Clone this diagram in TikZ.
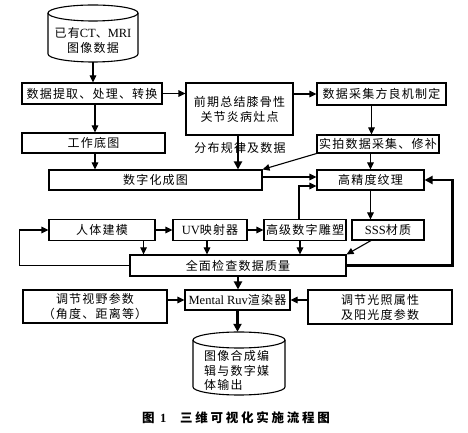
\documentclass[tikz,border=0pt]{standalone}
\usepackage{fontspec}
\setmainfont{Liberation Serif}
\newfontfamily\cjk[LetterSpace=10]{Noto Sans CJK SC}
\newfontfamily\cjkcap[LetterSpace=22]{Noto Sans CJK SC}
\usetikzlibrary{arrows.meta,calc}
\newcommand\lat[1]{{\rmfamily\fontsize{12.5}{15}\selectfont #1}}
\begin{document}
\begin{tikzpicture}[x=1pt,y=1pt,
  txt/.style={inner sep=0pt, font=\cjk\fontsize{12}{15}\selectfont, align=center},
  box/.style={txt, draw, line width=1.1pt},
  arr/.style={-{Triangle[length=7pt,width=6.5pt]}, line width=1.1pt},
  thk/.style={-{Triangle[length=8pt,width=8pt]}, line width=2.4pt}]
\useasboundingbox[fill=white] (0,0) rectangle (468,433);

% top cylinder
\node[txt, minimum width=90pt, minimum height=43pt] (cyl1) at (93,392.5) {已有\lat{CT}、\lat{MRI}\\图像数据};
\draw[line width=1.1pt] (93,420) ellipse [x radius=45pt, y radius=8pt];
\draw[line width=1.1pt] (48,420) -- (48,379) arc[start angle=180, end angle=360, x radius=45pt, y radius=8pt] -- (138,420);

% boxes
\node[box, minimum width=140pt, minimum height=21pt] (b1) at (92,339.5) {数据提取、处理、转换};
\node[box, minimum width=107pt, minimum height=52pt] (b2) at (239.5,324) {前期总结膝骨性\\关节炎病灶点};
\node[box, minimum width=129pt, minimum height=22pt] (b3) at (381.5,339) {数据采集方良机制定};
\node[box, minimum width=143pt, minimum height=20pt] (b4) at (93.5,290) {工作底图};
\node[box, minimum width=122pt, minimum height=18pt] (b5) at (378,289) {实拍数据采集、修补};
\node[txt] (lbl) at (240,285) {分布规律及数据};
\node[box, minimum width=213pt, minimum height=20pt] (b6) at (155.5,253) {数字化成图};
\node[box, minimum width=107pt, minimum height=20pt] (b7) at (370.5,253) {高精度纹理};
\node[box, minimum width=106pt, minimum height=21pt] (b8) at (102,203) {人体建模};
\node[box, minimum width=74pt, minimum height=21pt] (b9) at (210,203) {\lat{UV}映射器};
\node[box, minimum width=82pt, minimum height=21pt] (b10) at (305,203) {高级数字雕塑};
\node[box, minimum width=72pt, minimum height=20pt] (b11) at (388,203) {\lat{SSS}材质};
\node[box, minimum width=216pt, minimum height=21pt] (b12) at (238,167.5) {全面检查数据质量};
\node[box, minimum width=144pt, minimum height=33pt] (b13) at (95,126.5) {调节视野参数\\（角度、距离等）};
\node[box, minimum width=105pt, minimum height=20pt] (b14) at (237.5,133) {\lat{Mental Ruv}渲染器};
\node[box, minimum width=144pt, minimum height=34pt] (b15) at (380,126) {调节光照属性\\及阳光度参数};

% bottom cylinder
\node[inner sep=0pt, minimum width=92pt, minimum height=63pt] (cyl2) at (239,69.5) {};
\draw[line width=1.1pt] (239,93) ellipse [x radius=46pt, y radius=8pt];
\draw[line width=1.1pt] (193,93) -- (193,46) arc[start angle=180, end angle=360, x radius=46pt, y radius=8pt] -- (285,93);
\node[txt, align=left, anchor=west, font=\cjk\fontsize{12}{14.5}\selectfont] (cyl2t) at (204,62.5) {图像合成编\\辑与数字媒\\体输出};

% caption
\node[txt, font=\cjkcap\bfseries\fontsize{12.5}{14}\selectfont] (cap) at (236,15) {图 {\rmfamily\bfseries 1}\hspace{1.1em}三维可视化实施流程图};

% connectors
\draw[arr] (cyl1.south) -- (cyl1.south |- b1.north);
\draw[arr] (b1.east) -- (b1.east -| b2.west);
\draw[arr] (b3.west -| b2.east) -- (b3.west);
\draw[arr] ([xshift=3pt]b1.south) -- ([xshift=3pt]b1.south |- b4.north);
\draw[arr] ([xshift=-10pt]b3.south) -- ([xshift=-10pt]b3.south |- b5.north);
\draw[arr] ([xshift=1.5pt]b4.south) -- ([xshift=1.5pt]b4.south |- b6.north);
\draw[thk] ([xshift=-1.5pt]b2.south) -- ([xshift=-1.5pt]b2.south |- b6.north);
\draw[arr] (b5.south west) -- (b6.north east);
\draw[arr] (b7.north |- b5.south) -- (b7.north);
\draw[arr] ([yshift=3pt]b6.east) -- ([yshift=3pt]b6.east -| b7.west);
\draw[arr] ([xshift=-6pt]b10.north) |- ([yshift=-6pt]b7.west);
\draw[arr] (b7.south) -- (b7.south |- b11.north);
\draw[arr] (b8.east) -- (b8.east -| b9.west);
\draw[arr] (b9.east) -- (b9.east -| b10.west);
\draw[arr] ([xshift=-12pt]b8.south east) -- ([xshift=-12pt]b8.south east |- b12.north);
\draw[arr] ([xshift=-3pt]b9.south) -- ([xshift=-3pt]b9.south |- b12.north);
\draw[arr] ([xshift=-5pt]b10.south) -- ([xshift=-5pt]b10.south |- b12.north);
\draw[arr] ([xshift=-17pt]b11.south) -- (b12.north east);
\draw[thk] (b12.east) -- ++(106pt,0) |- (b7.east);
\draw[arr] (b12.west) -- ++(-110pt,0) |- (b8.west);
\draw[thk] (b12.south) -- (b12.south |- b14.north);
\draw[arr] (b14.west -| b13.east) -- (b14.west);
\draw[arr] (b14.east -| b15.west) -- (b14.east);
\draw[thk] (b14.south) -- (b14.south |- cyl2.north);
\end{tikzpicture}
\end{document}
